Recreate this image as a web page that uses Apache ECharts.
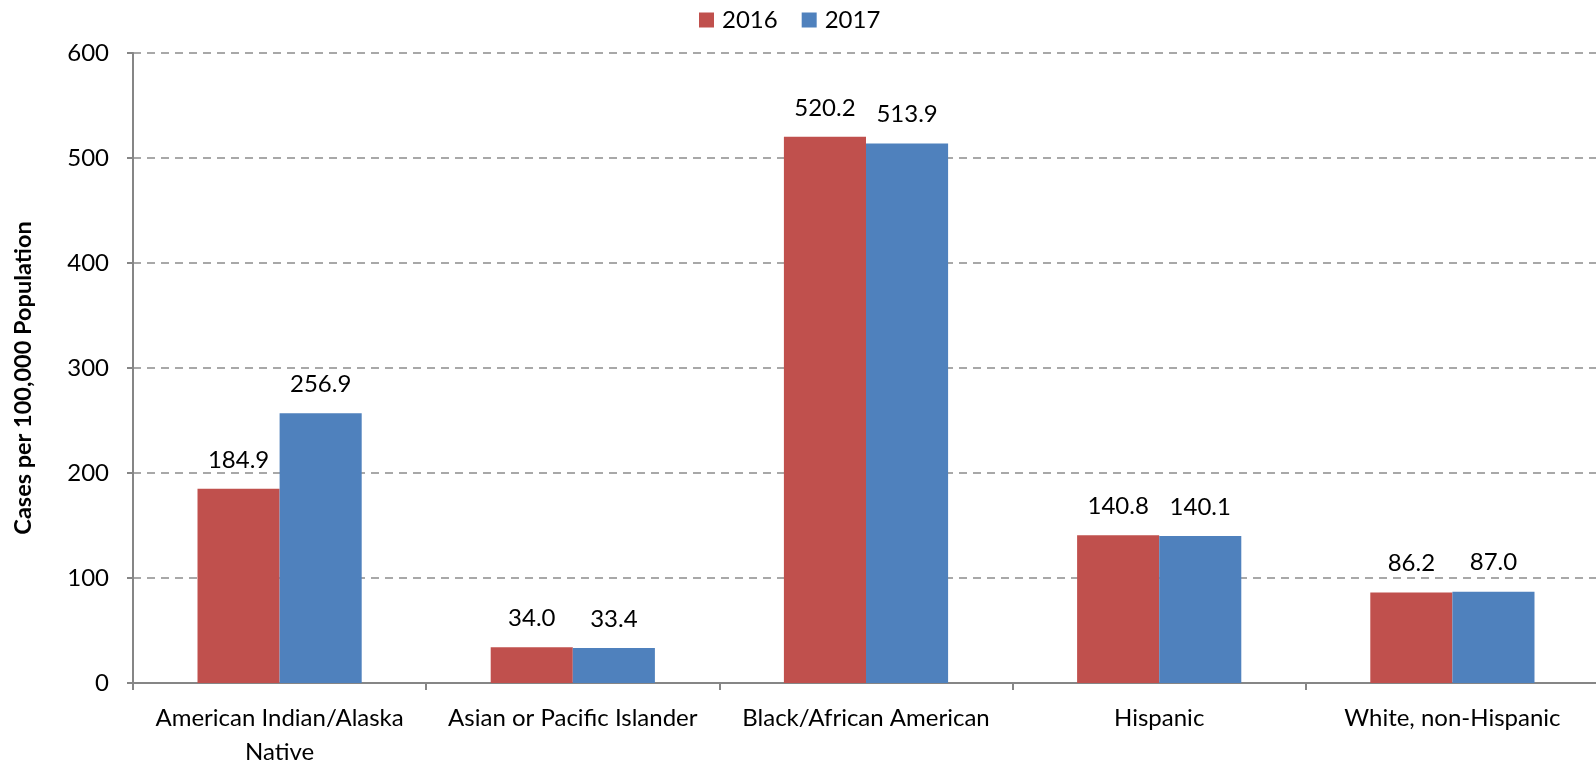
<!DOCTYPE html>
<html>
<head>
<meta charset="utf-8">
<script src="https://cdn.jsdelivr.net/npm/echarts@6/dist/echarts.min.js"></script>
<style>html,body{margin:0;padding:0;background:#fff}#c{width:1596px;height:761px}</style>
</head>
<body>
<div id="c"></div>
<script>
const categories = ["American Indian/Alaska\nNative", "Asian or Pacific Islander", "Black/African American", "Hispanic", "White, non-Hispanic"];
const values2016 = [184.9, 34.0, 520.2, 140.8, 86.2];
const values2017 = [256.9, 33.4, 513.9, 140.1, 87.0];
const seriesNames = ["2016", "2017"];
const yTitle = "Cases per 100,000 Population";

const FONT = "Lato, 'Open Sans', sans-serif";
const chart = echarts.init(document.getElementById('c'), null, {renderer: 'canvas'});
const lbl = {show: true, position: 'top', distance: 17, color: '#000', fontFamily: FONT, fontSize: 24, formatter: p => p.value.toFixed(1)};
chart.setOption({
  animation: false,
  textStyle: {fontFamily: FONT},
  legend: {
    top: 3, left: 694, itemWidth: 15, itemHeight: 15, itemGap: 24,
    textStyle: {fontFamily: FONT, fontSize: 24, color: '#000', padding: [0, 0, 0, 3]},
    icon: 'rect',
    data: seriesNames
  },
  grid: {left: 133, right: -3, top: 53, bottom: 78, containLabel: false, outerBoundsMode: 'none'},
  xAxis: {
    type: 'category', data: categories,
    axisLine: {lineStyle: {color: '#868686', width: 2}},
    axisTick: {show: true, length: 7, lineStyle: {color: '#868686', width: 2}},
    axisLabel: {color: '#000', fontFamily: FONT, fontSize: 24, margin: 18, lineHeight: 34, interval: 0}
  },
  yAxis: {
    type: 'value', min: 0, max: 600, interval: 100,
    name: yTitle, nameLocation: 'middle', nameGap: 98,
    nameTextStyle: {fontFamily: FONT, fontSize: 23.5, fontWeight: 'bold', color: '#000', padding: [0, 20, 0, 0]},
    axisLine: {show: true, lineStyle: {color: '#868686', width: 2}},
    axisTick: {show: true, length: 6, lineStyle: {color: '#868686', width: 2}},
    axisLabel: {color: '#000', fontFamily: FONT, fontSize: 24, margin: 24},
    splitLine: {show: true, lineStyle: {color: '#8c8c8c', type: [8, 6], width: 1.5}}
  },
  series: [
    {name: seriesNames[0], type: 'bar', data: values2016, itemStyle: {color: '#C0504D'}, barGap: '0%', barCategoryGap: '44%', label: lbl},
    {name: seriesNames[1], type: 'bar', data: values2017, itemStyle: {color: '#4F81BD'}, barGap: '0%', barCategoryGap: '44%', label: lbl}
  ]
});
</script>
</body>
</html>
